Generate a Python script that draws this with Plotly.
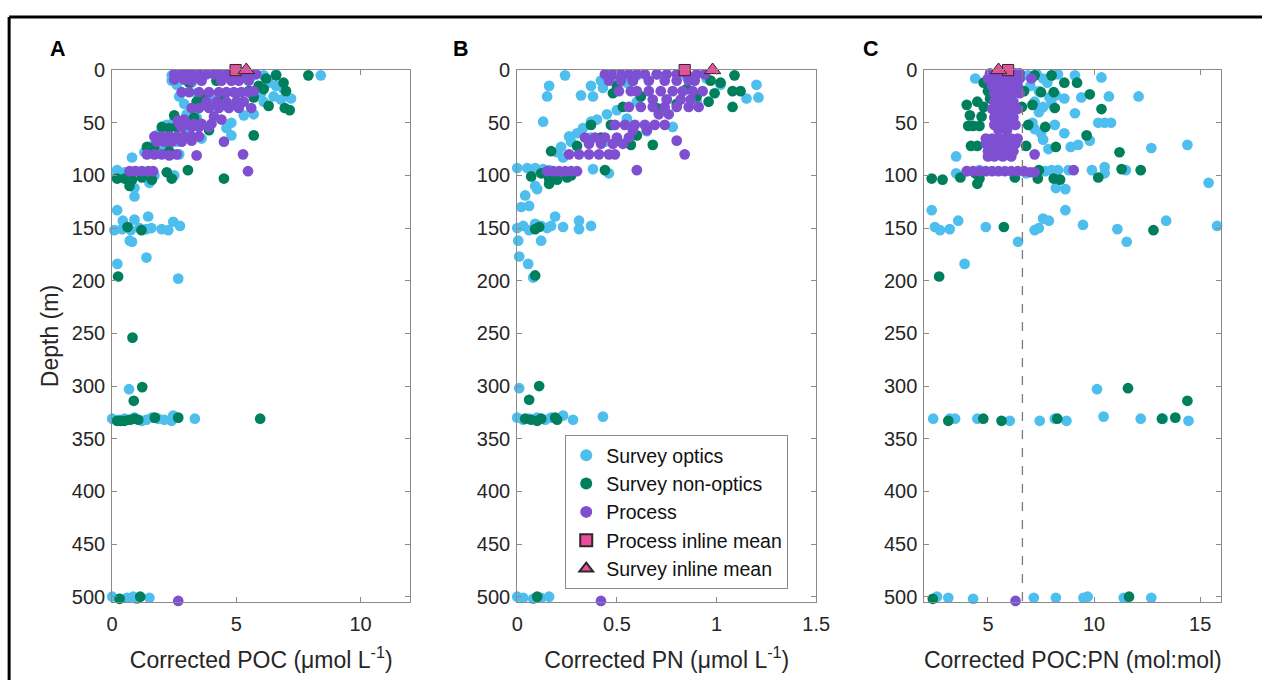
import plotly.graph_objects as go

# The captured picture is the page scaled by about 0.984; the html body keeps an 8px margin.
S = 0.984
OFF = 8
W, H = 1264, 680

# ---------------- data (value, depth m) ----------------
A_optics = [(2.4,5),(3.0,4),(3.6,6),(4.2,5),(5.0,4),(5.6,6),(6.1,5),(6.6,4),(8.4,5),
    (2.4,10),(2.6,14),(3.2,12),(6.3,12),(6.6,15),(6.9,18),
    (2.7,25),(3.4,22),(4.1,24),(6.0,22),(6.5,25),(7.2,27),(6.8,28),
    (2.9,32),(3.3,36),(4.2,33),(5.0,32),(6.1,30),
    (3.0,42),(3.4,45),(5.3,43),(5.7,42),(2.5,48),(2.2,52),
    (4.8,50),(4.6,55),(3.0,58),(2.0,57),(1.8,62),(4.8,62),(3.6,65),(2.6,68),
    (1.6,72),(2.1,75),(1.3,78),(0.8,83),(2.7,80),
    (0.2,95),(0.5,97),(0.9,96),(1.3,98),(1.7,100),(0.2,100),(0.6,103),(1.5,107),(2.5,100),
    (0.9,112),(0.9,120),
    (0.2,133),(0.43,143),(0.9,142),(1.45,139),(2.46,144),(0.09,152),(0.4,151),(0.75,152),
    (1.1,150),(1.38,151),(1.58,150),(1.99,151),(2.26,152),(2.73,148),
    (0.71,162),(0.8,163),(1.38,178),(0.21,184),(2.66,198),
    (0.68,303),
    (0.0,331),(0.3,332),(0.5,331),(0.75,332),(0.9,330),(1.2,333),(1.38,332),(1.6,330),
    (1.85,331),(2.1,332),(2.39,333),(2.46,328),(3.33,331),
    (0.0,500),(0.3,502),(0.6,501),(0.85,500),(1.0,502),(1.5,501)]
A_nonoptics = [(7.9,5),(6.6,5),(6.2,8),(6.9,12),(7.0,20),(6.95,36),(7.15,38),(6.3,34),
    (5.9,15),(5.5,20),(4.2,10),(3.1,12),(3.6,25),(4.5,28),(5.0,22),(5.7,26),(3.4,30),(6.1,18),
    (2.5,43),(3.3,45),(2.0,54),(2.6,54),(2.3,55),(3.9,57),(5.7,62),(1.4,73),(1.7,73),(2.3,77),
    (0.2,103),(0.5,103),(0.8,104),(1.2,102),(1.6,104),(2.2,97),(2.4,103),(3.05,95),(4.5,103),(0.7,110),
    (0.62,149),(1.18,152),(0.24,196),(0.82,254),(1.21,301),(0.87,314),
    (0.2,333),(0.35,333),(0.5,333),(0.7,332),(0.9,331),(1.05,332),(1.72,330),(2.66,330),(5.96,331),
    (0.3,502),(1.13,500)]
A_process = [(2.5,4),(2.8,4),(3.0,4),(3.2,4),(3.5,4),(3.8,4),(4.1,4),(4.3,4),(4.6,4),(4.9,4),(5.2,4),(5.5,4),(5.8,4),
    (2.5,9),(2.9,9),(3.2,10),(3.6,10),(4.4,10),(4.8,10),(5.1,10),(5.5,10),
    (2.8,21),(3.1,21),(3.5,21),(3.9,21),(4.3,21),(4.6,21),(4.9,21),(5.2,21),(5.5,21),(5.7,20),
    (3.8,30),(4.2,30),(4.6,30),(5.0,30),(5.3,30),
    (3.2,36),(3.5,36),(3.9,36),(4.3,36),(4.7,36),(5.1,36),(5.6,36),
    (4.1,44),(4.4,47),(2.65,48),(2.9,47),
    (2.7,51),(3.0,51),(3.3,51),(3.6,51),(4.0,51),(2.8,54),(3.2,54),(3.5,54),(3.9,54),
    (1.7,63),(2.0,63),(2.3,63),(2.6,63),(2.9,63),(3.2,63),(3.5,63),
    (1.8,68),(2.1,68),(2.4,68),(2.8,68),(3.2,67),(4.5,68),
    (1.4,80),(1.7,80),(2.0,80),(2.3,81),(2.6,80),(3.4,81),(5.27,80),
    (0.7,96),(0.95,96),(1.2,96),(1.45,96),(1.65,96),(5.47,96),
    (2.66,504)]
A_process_mean = [(4.97,0)]
A_survey_mean = [(5.4,0)]

B_optics = [(0.24,5),(0.16,15),(0.15,25),(0.32,24),(0.37,15),(0.38,25),(0.42,10),(0.43,17),
    (0.46,5),(0.5,8),(0.55,12),(0.6,5),(0.7,4),(0.85,6),(0.95,8),(1.02,14),(1.2,14),(1.15,27),
    (1.21,26),(0.9,30),(0.75,28),(0.6,30),
    (0.5,38),(0.45,42),(0.4,47),(0.13,49),(0.37,49),(0.55,46),(0.78,54),(0.65,58),
    (0.33,55),(0.3,60),(0.26,63),(0.37,64),(0.27,68),(0.44,68),(0.22,73),(0.2,78),(0.23,83),
    (0.0,93),(0.05,93),(0.09,93),(0.13,94),(0.16,95),(0.38,94),(0.46,98),(0.21,97),(0.09,110),(0.1,113),
    (0.04,119),(0.02,130),(0.06,129),
    (0.0,150),(0.03,148),(0.06,152),(0.09,146),(0.12,148),(0.15,150),(0.17,148),(0.19,139),
    (0.23,149),(0.31,143),(0.31,151),(0.37,148),
    (0.005,162),(0.12,162),(0.01,177),(0.055,184),(0.08,197),
    (0.01,302),
    (0.0,330),(0.03,332),(0.06,331),(0.1,330),(0.14,332),(0.17,330),(0.23,328),(0.28,332),(0.43,329),
    (0.0,500),(0.03,501),(0.08,502),(0.12,501),(0.16,500)]
B_nonoptics = [(1.09,5),(1.02,12),(1.08,20),(1.12,20),(1.08,35),(0.97,10),(0.99,22),(0.96,30),
    (0.9,25),(0.85,18),(0.8,32),(0.7,36),(0.62,25),(0.5,15),(0.48,22),(0.58,10),(0.53,35),
    (0.37,52),(0.47,52),(0.6,62),(0.57,71),(0.68,71),(0.42,64),(0.17,77),(0.3,72),
    (0.07,101),(0.12,98),(0.16,103),(0.2,104),(0.25,102),(0.27,100),(0.16,108),(0.44,95),
    (0.11,149),(0.09,151),(0.09,195),(0.11,300),(0.06,313),
    (0.04,331),(0.07,332),(0.1,333),(0.12,331),(0.19,330),(0.2,332),
    (0.1,500)]
B_process = [(0.44,4),(0.48,4),(0.52,4),(0.56,4),(0.6,4),(0.64,4),(0.7,4),(0.75,4),(0.8,4),(0.85,4),(0.9,4),(0.94,4),
    (0.46,10),(0.52,10),(0.58,10),(0.66,10),(0.74,10),(0.8,10),(0.86,10),(0.89,10),
    (0.51,20),(0.57,20),(0.6,20),(0.66,20),(0.72,20),(0.78,20),(0.83,20),(0.88,20),(0.93,20),
    (0.68,28),(0.75,28),(0.82,28),(0.87,28),
    (0.56,35),(0.62,35),(0.68,35),(0.74,35),(0.8,35),(0.86,35),(0.91,35),
    (0.71,42),(0.76,42),
    (0.49,52),(0.54,52),(0.59,52),(0.64,52),(0.69,52),(0.74,52),(0.58,57),(0.65,57),
    (0.34,64),(0.39,64),(0.44,64),(0.5,64),(0.56,64),
    (0.36,70),(0.42,70),(0.48,70),(0.53,70),
    (0.26,80),(0.31,80),(0.36,80),(0.41,80),(0.46,80),(0.49,80),
    (0.15,96),(0.18,96),(0.21,96),(0.24,96),(0.27,96),(0.3,96),
    (0.8,67),(0.84,80),(0.6,95),
    (0.42,504)]
B_process_mean = [(0.84,0)]
B_survey_mean = [(0.98,0)]

C_optics = [(4.4,8),(3.5,82),(3.5,98),(4.0,96),(4.6,95),
    (5.2,5),(5.8,3),(6.5,5),(6.9,5),(7.3,4),(7.6,8),(8.0,5),(8.3,4),
    (7.0,15),(7.4,20),(7.8,12),(7.9,26),(8.2,24),(8.6,27),(7.2,30),(7.6,35),(7.4,40),(8.0,32),
    (9.1,5),(10.35,7),(10.7,25),(12.1,25),(9.1,41),(9.4,26),(10.2,50),(10.5,50),(10.8,50),
    (8.15,52),(8.6,60),(8.9,73),(9.25,71),(9.8,67),(12.7,74),(14.4,71),(7.85,75),(7.5,60),
    (7.6,66),(7.2,56),(7.1,50),
    (9.9,95),(10.5,92),(10.5,98),(11.5,95),(8.8,95),(7.7,96),(8.0,95),(8.3,95),(6.8,98),
    (8.2,112),(8.65,113),(15.4,107),
    (2.35,133),(8.65,133),(2.5,149),(2.74,152),(3.2,151),(3.6,143),(4.9,149),(6.42,163),
    (7.2,152),(7.4,150),(7.6,141),(7.87,143),(9.48,147),(11.1,151),(11.54,163),(13.4,143),(15.8,148),
    (3.9,184),
    (10.14,303),
    (2.42,331),(3.2,331),(3.45,331),(4.5,331),(6.03,333),(7.44,333),(8.15,331),(8.7,333),
    (10.45,329),(12.2,331),(13.25,331),(14.45,333),
    (2.6,500),(3.13,501),(4.3,502),(7.16,501),(8.2,501),(9.5,501),(9.7,500),(11.4,501),(12.7,501)]
C_nonoptics = [(2.35,103),(2.86,104),(3.7,102),(4.0,33),(4.15,43),(4.07,53),(4.3,53),(4.6,53),
    (4.2,72),(4.5,72),(4.8,12),(5.0,20),(5.1,27),(4.8,35),(4.7,44),(4.5,30),(4.5,108),(4.4,98),(4.6,103),
    (6.27,102),(6.8,72),(6.9,52),(6.7,20),(6.6,35),(7.2,5),(7.4,95),(7.35,103),(7.5,21),(7.7,54),
    (8.0,5),(8.1,21),(8.15,36),(8.2,73),(8.1,103),(8.4,104),(8.6,12),(9.2,12),(9.8,23),(9.65,62),
    (10.2,102),(10.35,37),(11.2,78),(11.3,94),(12.2,95),(7.1,33),
    (5.75,149),(12.8,152),(2.7,196),
    (11.6,302),(14.4,314),
    (3.13,333),(4.78,331),(5.64,333),(8.27,331),(13.2,331),(13.83,330),
    (2.4,502),(11.65,500)]
C_process = [(5.1,3),(5.4,3),(5.7,3),(6.0,3),(6.3,3),(6.5,3),
    (5.0,8),(5.3,8),(5.6,8),(5.9,8),(6.2,8),(6.5,8),(7.05,8),
    (5.2,15),(5.5,15),(5.8,15),(6.1,15),(6.4,15),
    (5.3,22),(5.6,22),(5.9,22),(6.2,22),(6.5,22),
    (5.3,30),(5.6,30),(5.9,30),(6.2,30),
    (5.2,37),(5.5,37),(5.8,37),(6.1,37),(6.4,37),
    (5.3,45),(5.6,45),(5.9,45),(6.2,45),
    (5.3,52),(5.6,52),(5.9,52),(6.3,52),(5.5,57),(5.9,57),
    (4.9,65),(5.2,65),(5.5,65),(5.8,65),(6.1,65),(6.4,65),
    (4.9,70),(5.2,70),(5.6,70),(6.0,70),(6.3,70),
    (5.0,77),(5.3,77),(5.6,77),(5.9,77),(6.2,77),
    (5.0,82),(5.3,82),(5.7,82),(6.1,82),(7.2,80),
    (4.0,96),(4.3,96),(4.6,96),(4.9,96),(5.2,96),(5.5,96),(5.8,96),(6.1,96),(6.4,96),(6.7,96),(7.0,97),(7.2,97),(9.04,95),
    (6.3,504)]
C_process_mean = [(5.95,0)]
C_survey_mean = [(5.5,0)]
redfield_ratio = 6.625

series_names = ["Survey optics", "Survey non-optics", "Process", "Process inline mean", "Survey inline mean"]
x_titles = ["Corrected POC (μmol L<sup>-1</sup>)", "Corrected PN (μmol L<sup>-1</sup>)", "Corrected POC:PN (mol:mol)"]
panel_letters = ["A", "B", "C"]
x_ranges = [[0, 12], [0, 1.5], [2, 16]]
x_tickvals = [[0, 5, 10], [0, 0.5, 1, 1.5], [5, 10, 15]]
y_tickvals = list(range(0, 501, 50))
depth_max = 505

# ---------------- styling ----------------
C_OPT = "#4DBEEE"
C_NON = "#007F5C"
C_PRO = "#7F4FD2"
C_MEAN = "#EE4B9B"
AX_GRAY = "#8A8A8A"
TXT = "#262626"
FONT = "Liberation Sans, Arial, sans-serif"

panels = [
    (A_optics, A_nonoptics, A_process, A_process_mean, A_survey_mean),
    (B_optics, B_nonoptics, B_process, B_process_mean, B_survey_mean),
    (C_optics, C_nonoptics, C_process, C_process_mean, C_survey_mean),
]

# target picture-pixel positions of the three plot boxes
x_dom_px = [(114, 412), (519, 818), (926, 1223)]
y_top_px, y_bot_px = 67.5, 604.3


def fx(p):  # picture x pixel -> paper fraction
    return (p / S - OFF) / W


def fy(p):  # picture y pixel -> paper fraction
    return 1 - (p / S - OFF) / H


fig = go.Figure()
for i, (opt, non, pro, pmean, smean) in enumerate(panels):
    xa = "x" if i == 0 else f"x{i+1}"
    ya = "y" if i == 0 else f"y{i+1}"
    show = (i == 1)
    styles = [
        (opt, dict(color=C_OPT, size=10.7, symbol="circle")),
        (non, dict(color=C_NON, size=10.7, symbol="circle")),
        (pro, dict(color=C_PRO, size=10.7, symbol="circle")),
        (pmean, dict(color=C_MEAN, size=11.2, symbol="square", line=dict(color="#2a2a2a", width=1))),
        (smean, dict(color=C_MEAN, size=14.2, symbol="triangle-up", line=dict(color="#2a2a2a", width=1))),
    ]
    for k, (data, mk) in enumerate(styles):
        fig.add_trace(go.Scatter(
            x=[p[0] for p in data], y=[p[1] for p in data],
            mode="markers", marker=mk, name=series_names[k],
            xaxis=xa, yaxis=ya, showlegend=show, cliponaxis=False,
            hoverinfo="x+y"))

layout = dict(
    width=W, height=H, margin=dict(l=0, r=0, t=0, b=0),
    paper_bgcolor="white", plot_bgcolor="white",
    font=dict(family=FONT, color=TXT, size=19),
    legend=dict(x=fx(567), y=fy(513.5), xanchor="left", yanchor="middle",
                bordercolor=AX_GRAY, borderwidth=1, bgcolor="white",
                font=dict(size=19.5, color="#111111"), itemsizing="constant",
                tracegroupgap=0),
    showlegend=True,
)
annotations = []
for i in range(3):
    sx = "" if i == 0 else str(i+1)
    x0, x1 = x_dom_px[i]
    layout["xaxis" + sx] = dict(
        domain=[fx(x0), fx(x1)], range=x_ranges[i], tickvals=x_tickvals[i],
        anchor="y" + sx, showline=True, linecolor=AX_GRAY, linewidth=1, mirror="ticks",
        ticks="inside", ticklen=5, tickcolor=AX_GRAY, showgrid=False, zeroline=False,
        tickfont=dict(size=20, color=TXT), ticklabelstandoff=4,
        title=dict(text=x_titles[i], font=dict(size=23, color=TXT), standoff=17))
    ydict = dict(
        domain=[fy(y_bot_px), fy(y_top_px)], range=[depth_max, 0], tickvals=y_tickvals,
        anchor="x" + sx, showline=True, linecolor=AX_GRAY, linewidth=1, mirror="ticks",
        ticks="inside", ticklen=5, tickcolor=AX_GRAY, showgrid=False, zeroline=False,
        tickfont=dict(size=20, color=TXT), ticklabelstandoff=2)
    if i == 0:
        ydict["title"] = dict(text="Depth (m)", font=dict(size=23, color=TXT), standoff=6)
    layout["yaxis" + sx] = ydict
    annotations.append(dict(text="<b>%s</b>" % panel_letters[i], xref="paper", yref="paper",
                            x=fx([60, 463, 873][i]), y=fy(46), showarrow=False,
                            font=dict(size=21.5, color="black"), xanchor="center", yanchor="middle"))
layout["annotations"] = annotations
layout["shapes"] = [
    dict(type="line", xref="x3", yref="y3", x0=redfield_ratio, x1=redfield_ratio, y0=0, y1=depth_max,
         line=dict(color="#7a7a7a", width=1.3, dash="dash"), layer="above"),
    dict(type="line", xref="paper", yref="paper", x0=fx(11), x1=1.05, y0=fy(14), y1=fy(14),
         line=dict(color="black", width=3)),
    dict(type="line", xref="paper", yref="paper", x0=fx(11), x1=fx(11), y0=-0.05, y1=fy(14),
         line=dict(color="black", width=3)),
]
fig.update_layout(**layout)
fig.write_html("out.html")
